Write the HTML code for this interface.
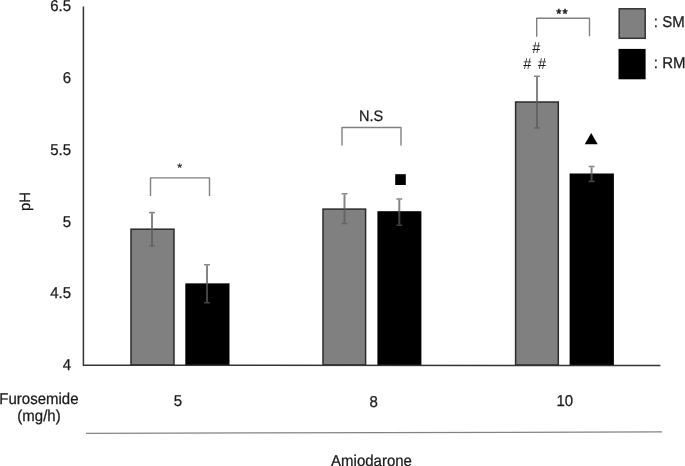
<!DOCTYPE html>
<html><head><meta charset="utf-8">
<style>
html,body{margin:0;padding:0;background:#fff;width:685px;height:466px;overflow:hidden;}
svg{display:block;will-change:transform;}
text{font-family:"Liberation Sans",sans-serif;fill:#1a1a1a;text-rendering:geometricPrecision;stroke:#1a1a1a;stroke-width:0.25px;}
</style></head>
<body>
<svg width="685" height="466" viewBox="0 0 685 466">
<rect width="685" height="466" fill="#fff"/>
<text transform="translate(71.1,11.2) scale(1,1.05)" font-size="15" text-anchor="end">6.5</text>
<text transform="translate(71.1,83) scale(1,1.05)" font-size="15" text-anchor="end">6</text>
<text transform="translate(71.1,154.8) scale(1,1.05)" font-size="15" text-anchor="end">5.5</text>
<text transform="translate(71.1,226.6) scale(1,1.05)" font-size="15" text-anchor="end">5</text>
<text transform="translate(71.1,298.4) scale(1,1.05)" font-size="15" text-anchor="end">4.5</text>
<text transform="translate(71.1,370.2) scale(1,1.05)" font-size="15" text-anchor="end">4</text>
<text font-size="15" transform="translate(29.6,201.5) rotate(-90) scale(1,1.0)" text-anchor="middle">pH</text>

<!-- bars -->
<g stroke="#2b2b2b" stroke-width="1.5" fill="#808080">
<rect x="131" y="229.2" width="43" height="135.8"/>
<rect x="323.0" y="209.1" width="42.6" height="155.9"/>
<rect x="515.6" y="102" width="42.7" height="263"/>
</g>
<g fill="#000">
<rect x="185.3" y="283.35" width="44.2" height="81.65"/>
<rect x="377.4" y="211.2" width="44.0" height="153.8"/>
<rect x="569.6" y="173.5" width="44.3" height="191.5"/>
</g>

<!-- error bars -->
<g stroke="#5a5a5a" stroke-opacity="0.74" fill="none">
<path stroke-width="2" d="M152.0 213.4V244.9"/><path stroke-width="1.6" d="M149.1 212.6h5.8M149.1 245.7h5.8"/>
<path stroke-width="2" d="M207.0 265.6V302.0"/><path stroke-width="1.6" d="M204.1 264.8h5.8M204.1 302.8h5.8"/>
<path stroke-width="2" d="M344.5 194.6V222.7"/><path stroke-width="1.6" d="M341.6 193.8h5.8M341.6 223.5h5.8"/>
<path stroke-width="2" d="M399.3 199.8V224.5"/><path stroke-width="1.6" d="M396.4 199.0h5.8M396.4 225.3h5.8"/>
<path stroke-width="2" d="M537.0 77.0V127.1"/><path stroke-width="1.6" d="M534.1 76.2h5.8M534.1 127.9h5.8"/>
<path stroke-width="2" d="M591.6 167.3V180.6"/><path stroke-width="1.6" d="M588.7 166.5h5.8M588.7 181.4h5.8"/>
</g>

<!-- axes -->
<path d="M83.4 6.4V365.2L660.4 365.55" stroke="#343434" stroke-width="1.5" fill="none" stroke-linejoin="round"/>

<!-- significance brackets -->
<g stroke="#808080" stroke-width="1.4" fill="none" stroke-linejoin="round">
<path d="M150.5 196V177.9H209.5V196"/>
<path d="M342 145.5V127.5H401V145.5"/>
<path d="M536.7 36.8V18.2H589.5V36.2"/>
</g>
<text transform="translate(179.6,171.6) scale(1,1.0)" font-size="12.5" text-anchor="middle" style="stroke-width:0.15px">*</text>
<text transform="translate(371.2,121.3) scale(1,1.05)" font-size="14.5" text-anchor="middle">N.S</text>
<text transform="translate(558.7,18.4) scale(1,1.0)" font-size="13" text-anchor="middle" style="stroke-width:0.55px">*</text>
<text transform="translate(565.0,18.4) scale(1,1.0)" font-size="13" text-anchor="middle" style="stroke-width:0.55px">*</text>
<text transform="translate(536.2,53.3) scale(1,1.08)" font-size="14.5" text-anchor="middle" style="stroke-width:0">#</text>
<text transform="translate(527.3,68.8) scale(1,1.08)" font-size="14.5" text-anchor="middle" style="stroke-width:0">#</text>
<text transform="translate(542.0,68.8) scale(1,1.08)" font-size="14.5" text-anchor="middle" style="stroke-width:0">#</text>

<!-- markers -->
<rect x="395.2" y="174.2" width="10.6" height="10.8" fill="#000"/>
<path d="M591.2 133 L597.7 144.3 L584.7 144.3 Z" fill="#000"/>

<!-- legend -->
<rect x="619.2" y="8.8" width="26" height="29.5" fill="#808080" stroke="#333" stroke-width="1.5"/>
<rect x="618.5" y="48.9" width="27.1" height="30.4" fill="#000"/>
<text transform="translate(653.8,27) scale(1,1.05)" font-size="15" text-anchor="start">: SM</text>
<text transform="translate(653.8,67.7) scale(1,1.05)" font-size="15" text-anchor="start">: RM</text>

<!-- bottom labels -->
<text transform="translate(38.9,403.5) scale(1,1.05)" font-size="15" text-anchor="middle">Furosemide</text>
<text transform="translate(39,421.4) scale(1,1.05)" font-size="15" text-anchor="middle">(mg/h)</text>
<text transform="translate(177.9,405.6) scale(1,1.05)" font-size="15" text-anchor="middle">5</text>
<text transform="translate(373.7,407.0) scale(1,1.05)" font-size="15" text-anchor="middle">8</text>
<text transform="translate(564.8,405.6) scale(1,1.05)" font-size="15" text-anchor="middle">10</text>
<text transform="translate(371.5,465.5) scale(1,1.05)" font-size="15" text-anchor="middle">Amiodarone</text>
<path d="M86 433.4L662 431.9" stroke="#848484" stroke-width="1.2"/>
</svg>
</body></html>
